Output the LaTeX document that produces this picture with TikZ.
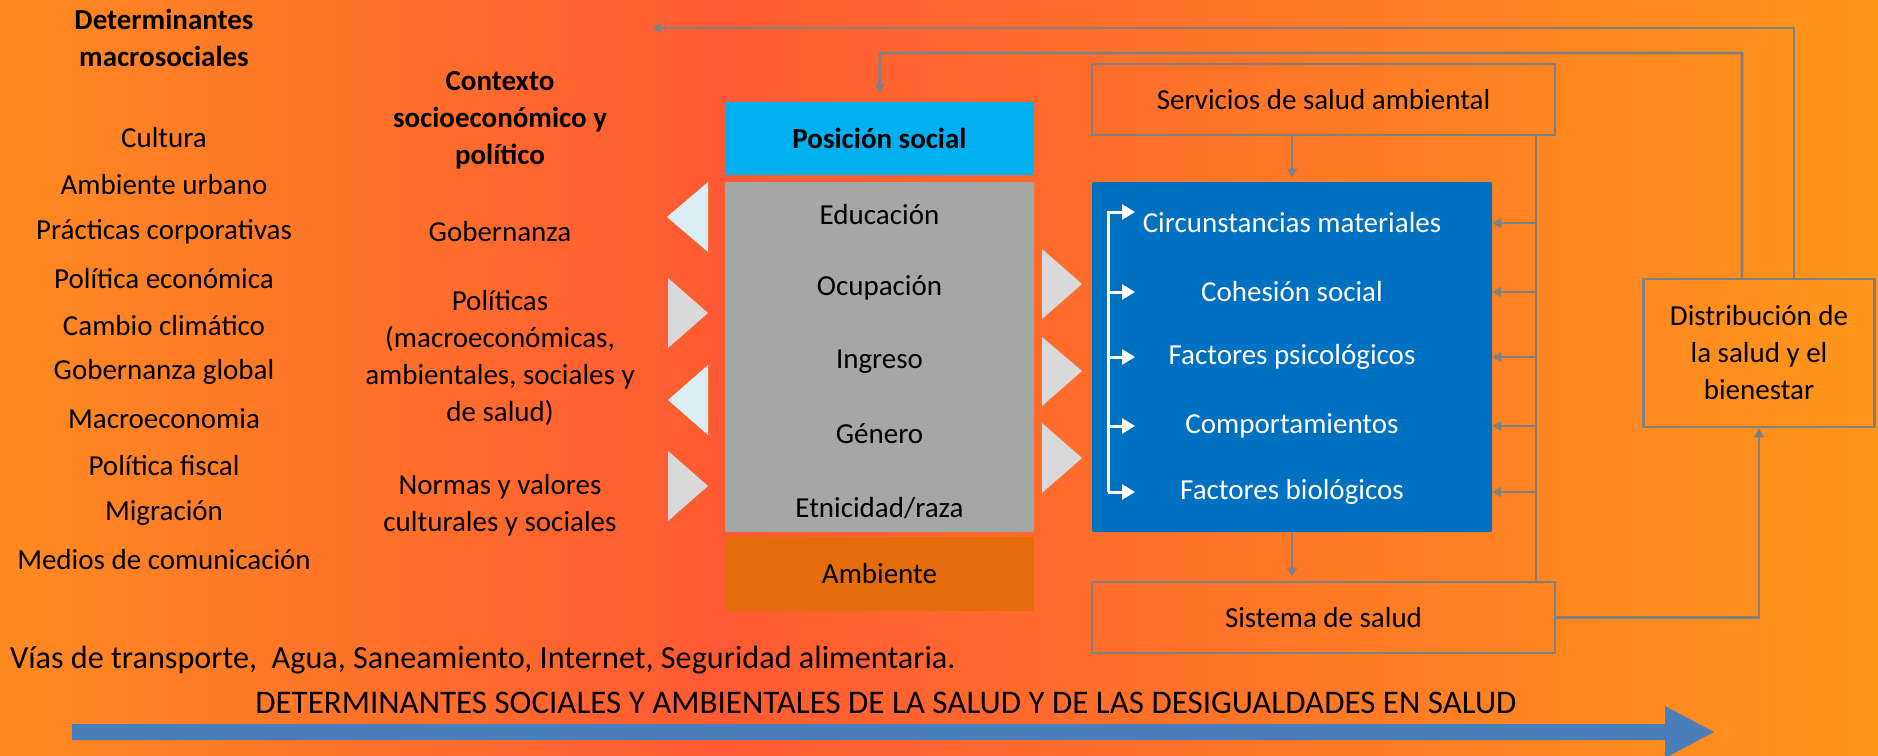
\documentclass[tikz,border=0pt]{standalone}
\usepackage{fontspec}
\setmainfont{Carlito}
\usepackage{tikz}
\usetikzlibrary{arrows.meta}
\definecolor{naranja}{HTML}{FF8A20}
\definecolor{rojizo}{HTML}{FF5A33}
\definecolor{naranjad}{HTML}{FF961A}
\definecolor{cian}{HTML}{00B0F0}
\definecolor{gris}{HTML}{A6A6A6}
\definecolor{ambiente}{HTML}{E46C0A}
\definecolor{azul}{HTML}{0070C0}
\definecolor{trazo}{HTML}{808080}
\definecolor{celeste}{HTML}{DBEEF4}
\definecolor{grisc}{HTML}{D9D9D9}
\definecolor{flecha}{HTML}{4A7EBB}
\tikzset {>={Triangle[length=4.5pt,width=5pt]}}
\tikzset {
  caja/.style={draw=trazo,line width=1.4pt,minimum width=231.5pt,minimum height=35.5pt,inner sep=0pt},
  bloque/.style={minimum width=154.5pt,inner sep=0pt,rounded corners=1pt},
  conector/.style={draw=trazo,line width=1.4pt},
  blanca/.style={draw=white,line width=1.5pt,-{Triangle[length=6.5pt,width=7.5pt]}}
}
\newcommand*{\cuerpo}{\fontsize{14.5}{18.5}\selectfont}

\begin{document}
\begin{tikzpicture}[x=0.5pt,y=-0.5pt,font=\cuerpo]
\useasboundingbox (0,0) rectangle (1878,755);
\shade[left color=naranja,right color=rojizo] (0,0) rectangle (720,755);
\shade[left color=rojizo,right color=naranjad] (720,0) rectangle (1878,755);

\node[align=center,font=\cuerpo\bfseries] (dm) at (164,38) {Determinantes\\macrosociales};
\node (cul) at (164,138) {Cultura};
\node (amu) at (164,185) {Ambiente urbano};
\node (pco) at (164,232) {Prácticas corporativas};
\node (pec) at (164,279) {Política económica};
\node (ccl) at (164,326) {Cambio climático};
\node (ggl) at (164,372) {Gobernanza global};
\node (mac) at (164,419) {Macroeconomia};
\node (pfi) at (164,466) {Política fiscal};
\node (mig) at (164,513) {Migración};
\node (med) at (164,560) {Medios de comunicación};

\node[align=center,font=\cuerpo\bfseries] (ctx) at (500,120) {Contexto\\socioeconómico y\\político};
\node (gob) at (500,232) {Gobernanza};
\node[align=center] (pol) at (500,358) {Políticas\\(macroeconómicas,\\ambientales, sociales y\\de salud)};
\node[align=center] (nor) at (500,505) {Normas y valores\\culturales y sociales};

\fill[celeste] (708,182) -- (667,217) -- (708,252) -- cycle;
\fill[grisc] (668,278) -- (708,313) -- (668,348) -- cycle;
\fill[celeste] (708,365) -- (668,400) -- (708,435) -- cycle;
\fill[grisc] (668,451) -- (708,486) -- (668,521) -- cycle;
\fill[grisc] (1042,249) -- (1082,284) -- (1042,319) -- cycle;
\fill[grisc] (1042,337) -- (1082,371) -- (1042,406) -- cycle;
\fill[grisc] (1042,423) -- (1082,458) -- (1042,493) -- cycle;

\node[bloque,fill=cian,minimum height=36.5pt,font=\cuerpo\bfseries] (pos) at (879.5,138.5) {Posición social};
\node[bloque,fill=gris,minimum height=175pt] (gri) at (879.5,357) {};
\node (edu) at (879.5,215) {Educación};
\node (ocu) at (879.5,288) {Ocupación};
\node (ing) at (879.5,362) {Ingreso};
\node (gen) at (879.5,434) {Género};
\node (etn) at (879.5,508) {Etnicidad/raza};
\node[bloque,fill=ambiente,minimum height=37pt] (amb) at (879.5,574) {Ambiente};

\node[fill=azul,minimum width=200pt,minimum height=175pt,inner sep=0pt,rounded corners=1pt] (azu) at (1292,357) {};
\node[text=white] (c1) at (1292,223) {Circunstancias materiales};
\node[text=white] (c2) at (1292,292) {Cohesión social};
\node[text=white] (c3) at (1292,357) {Factores psicológicos};
\node[text=white] (c4) at (1292,426) {Comportamientos};
\node[text=white] (c5) at (1292,492) {Factores biológicos};

\node[caja] (ser) at (1323.5,99.5) {Servicios de salud ambiental};
\node[caja] (sis) at (1323.5,617.5) {Sistema de salud};
\node[caja,minimum width=115.25pt,minimum height=74pt,align=center] (dis) at (1759,353) {Distribución de\\la salud y el\\bienestar};

\coordinate (ret) at (652,28);
\coordinate (vue) at (880,53);
\coordinate (bus) at (1536,0);
\coordinate (brk) at (1108,0);
\draw[conector,->] ([xshift=17.5pt]dis.north) |- (ret);
\draw[conector,->] ([xshift=-8.5pt]dis.north) |- (vue) -- ([yshift=4.5pt]pos.north);
\draw[conector,->] (ser.south -| azu.north) -- ([yshift=2pt]azu.north);
\draw[conector,->] (azu.south) -- ([yshift=2pt]azu.south |- sis.north);
\draw[conector] (ser.south -| bus) -- (sis.north -| bus);
\draw[conector,->] (c1 -| bus) -- (c1 -| azu.east);
\draw[conector,->] (c2 -| bus) -- (c2 -| azu.east);
\draw[conector,->] (c3 -| bus) -- (c3 -| azu.east);
\draw[conector,->] (c4 -| bus) -- (c4 -| azu.east);
\draw[conector,->] (c5 -| bus) -- (c5 -| azu.east);
\draw[conector,->] (sis.east) -| (dis.south);

\path (brk |- c1) ++(0,-11) coordinate (b1);
\draw[blanca] (brk |- c5) -- (b1) -- ++(27,0);
\draw[blanca] (brk |- c2) -- ++(27,0);
\draw[blanca] (brk |- c3) -- ++(27,0);
\draw[blanca] (brk |- c4) -- ++(27,0);
\draw[blanca] (brk |- c5) -- ++(27,0);

\node[anchor=west,font=\fontsize{16.1}{19}\selectfont] (via) at (3,660) {Vías de transporte,\ \ Agua, Saneamiento, Internet, Seguridad alimentaria.};
\node[font=\fontsize{16.5}{19}\selectfont] (tit) at (886,703) {DETERMINANTES SOCIALES Y AMBIENTALES DE LA SALUD Y DE LAS DESIGUALDADES EN SALUD};
\fill[flecha] (72,724) -- (1665,724) -- (1665,706) -- (1714,732) -- (1665,758) -- (1665,740) -- (72,740) -- cycle;
\end{tikzpicture}
\end{document}
